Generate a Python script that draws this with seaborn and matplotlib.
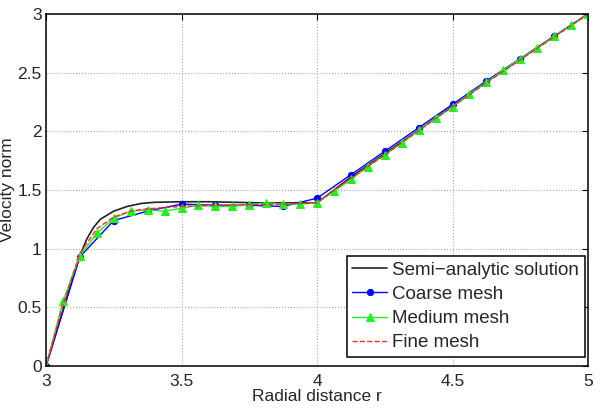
#!/usr/bin/env python3
import numpy as np
import pandas as pd
import matplotlib
matplotlib.use("Agg")
import matplotlib.pyplot as plt
import seaborn as sns

# semi-analytic solution
r_exact = [3.0, 3.05, 3.1, 3.125, 3.15, 3.175, 3.2, 3.25, 3.3, 3.35, 3.4, 3.5,
           3.6, 3.7, 3.8, 3.9, 4.0, 4.125, 4.25, 4.375, 4.5, 4.625, 4.75, 4.875, 5.0]
v_exact = [0.0, 0.38, 0.76, 0.94, 1.08, 1.18, 1.25, 1.32, 1.36, 1.385, 1.395, 1.40,
           1.40, 1.395, 1.39, 1.39, 1.39, 1.61, 1.81, 2.01, 2.215, 2.42, 2.615, 2.81, 3.0]

# coarse mesh, dr = 0.125
r_coarse = [3.0, 3.125, 3.25, 3.375, 3.5, 3.625, 3.75, 3.875, 4.0,
            4.125, 4.25, 4.375, 4.5, 4.625, 4.75, 4.875, 5.0]
v_coarse = [0.0, 0.93, 1.24, 1.32, 1.38, 1.37, 1.37, 1.36, 1.43,
            1.63, 1.83, 2.03, 2.23, 2.43, 2.62, 2.81, 3.0]

# medium mesh, dr = 0.0625
r_medium = [3.0, 3.0625, 3.125, 3.1875, 3.25, 3.3125, 3.375, 3.4375, 3.5, 3.5625,
            3.625, 3.6875, 3.75, 3.8125, 3.875, 3.9375, 4.0, 4.0625, 4.125, 4.1875,
            4.25, 4.3125, 4.375, 4.4375, 4.5, 4.5625, 4.625, 4.6875, 4.75, 4.8125,
            4.875, 4.9375, 5.0]
v_medium = [0.0, 0.55, 0.94, 1.13, 1.26, 1.32, 1.33, 1.32, 1.345, 1.37,
            1.36, 1.36, 1.375, 1.39, 1.38, 1.38, 1.39, 1.49, 1.59, 1.70,
            1.80, 1.90, 2.01, 2.11, 2.21, 2.32, 2.42, 2.52, 2.62, 2.71,
            2.81, 2.905, 3.0]

# fine mesh
r_fine = [3.0, 3.0625, 3.125, 3.1875, 3.25, 3.3125, 3.375, 3.4375, 3.5, 3.625,
          3.75, 3.875, 4.0, 4.125, 4.25, 4.375, 4.5, 4.625, 4.75, 4.875, 5.0]
v_fine = [0.0, 0.52, 0.96, 1.17, 1.27, 1.32, 1.34, 1.35, 1.36, 1.37,
          1.375, 1.38, 1.39, 1.60, 1.80, 2.005, 2.21, 2.415, 2.61, 2.805, 3.0]

sns.set_style("white")
plt.rcParams["font.family"] = ["Liberation Sans", "DejaVu Sans"]
plt.rcParams["xtick.direction"] = "in"
plt.rcParams["ytick.direction"] = "in"

fig, ax = plt.subplots(figsize=(6.0, 4.13), dpi=100)
fig.subplots_adjust(left=46 / 600, right=588 / 600, bottom=1 - 366 / 413, top=1 - 14 / 413)

sns.lineplot(x=r_exact, y=v_exact, ax=ax, color="#222222", lw=1.2,
             label="Semi\u2212analytic solution")
sns.lineplot(x=r_coarse, y=v_coarse, ax=ax, color="#0000ff", lw=1.0, marker="o",
             markersize=4.5, markeredgecolor="#0000ff", label="Coarse mesh")
sns.lineplot(x=r_medium, y=v_medium, ax=ax, color="#22ee22", lw=1.0, marker="^",
             markersize=5.5, markeredgecolor="#22ee22", label="Medium mesh")
sns.lineplot(x=r_fine, y=v_fine, ax=ax, color="#ff2a2a", lw=1.0, linestyle="--",
             label="Fine mesh")

ax.set_xlim(3, 5)
ax.set_ylim(0, 3)
ax.set_xticks([3, 3.5, 4, 4.5, 5])
ax.set_xticklabels(["3", "3.5", "4", "4.5", "5"])
ax.set_yticks([0, 0.5, 1, 1.5, 2, 2.5, 3])
ax.set_yticklabels(["0", "0.5", "1", "1.5", "2", "2.5", "3"])
ax.tick_params(labelsize=12.5, length=4, width=0.8, top=True, right=True,
               colors="black", labelcolor="#262626", pad=3)
ax.tick_params(axis="x", pad=6)
ax.grid(True, linestyle=":", color="#aaaaaa", lw=0.8)
for s in ax.spines.values():
    s.set_color("black")
    s.set_linewidth(1.1)

ax.set_xlabel("Radial distance r", fontsize=12.5, color="#262626", labelpad=0)
ax.set_ylabel("Velocity norm", fontsize=12.5, color="#262626", labelpad=2)

leg = ax.legend(loc="lower right", bbox_to_anchor=(1 - 3 / 542, 9 / 352),
                fontsize=13.5, frameon=True, fancybox=False,
                handlelength=1.85, borderpad=0.3, labelspacing=0.38,
                borderaxespad=0, handletextpad=0.3)
leg.get_frame().set_edgecolor("black")
leg.get_frame().set_linewidth(1.1)
leg.get_frame().set_alpha(1.0)
for t in leg.get_texts():
    t.set_color("#262626")

fig.savefig("out.png", dpi=100)
